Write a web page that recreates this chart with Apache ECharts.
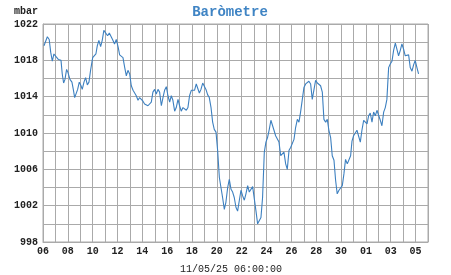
<!DOCTYPE html>
<html><head><meta charset="utf-8">
<script src="https://cdn.jsdelivr.net/npm/echarts@6/dist/echarts.min.js"></script>
<style>html,body{margin:0;padding:0;background:#fff}#c{width:451px;height:275px}</style>
</head><body><div id="c"></div>
<script>
// x = days since the first tick (06), y = pressure in mbar
const days = [0.08,0.35,0.5,0.62,0.75,0.88,1.05,1.23,1.45,1.55,1.66,1.77,1.9,2.0,2.17,2.33,2.44,2.55,2.65,2.79,2.92,3.06,3.16,3.3,3.43,3.57,3.7,3.83,4.0,4.13,4.26,4.37,4.5,4.64,4.77,4.9,5.04,5.2,5.34,5.47,5.6,5.76,5.9,6.06,
6.17,6.31,6.44,6.58,6.71,6.84,6.98,7.11,7.25,7.38,7.51,7.65,7.78,7.92,8.05,8.18,8.32,8.45,8.59,8.72,8.85,8.99,9.12,9.26,9.39,9.53,9.66,9.79,9.93,10.06,10.2,10.33,10.46,10.6,10.73,10.87,11.0,11.13,11.27,11.4,11.54,11.67,11.8,11.94,12.07,12.2,12.34,
12.45,12.59,12.72,12.86,12.99,13.12,13.26,13.39,13.53,13.66,13.79,13.93,14.06,14.2,14.33,14.46,14.6,14.73,14.87,15.0,15.14,15.27,15.4,15.54,15.67,15.81,15.94,16.07,16.21,16.34,16.48,16.61,16.74,16.88,17.01,17.15,17.28,17.41,17.55,17.68,17.82,17.95,18.08,18.22,18.35,18.49,
18.6,18.73,18.87,19.0,19.14,19.27,19.4,19.54,19.67,19.81,19.94,20.07,20.21,20.34,20.48,20.61,20.74,20.88,21.01,21.15,21.28,21.41,21.55,21.68,21.82,21.95,22.09,22.22,22.35,22.49,22.62,22.76,22.89,23.02,23.16,23.29,23.43,23.56,23.69,23.83,23.96,24.1,24.23,24.36,24.5,24.63,24.77,
24.88,25.01,25.15,25.28,25.42,25.55,25.68,25.82,25.95,26.09,26.22,26.35,26.49,26.62,26.76,26.89,27.02,27.16,27.29,27.43,27.56,27.69,27.83,27.96,28.1,28.23,28.37,28.5,28.63,28.77,28.9,29.04,29.17,29.3,29.44,29.57,29.71,29.84,29.97,30.11,30.24];
const pressure = [1019.6,1020.6,1020.3,1018.9,1017.9,1018.7,1018.4,1018.1,1018.0,1016.5,1015.5,1015.9,1017.0,1016.7,1015.9,1015.6,1014.8,1013.9,1014.1,1014.8,1015.6,1015.2,1014.8,1015.6,1016.1,1015.3,1015.6,1016.9,1018.3,1018.4,1018.7,1019.6,1020.2,1019.5,1020.2,1021.3,1021.1,1020.7,1021.0,1021.1,1020.3,1019.8,1020.3,1019.4,
1018.6,1018.5,1018.3,1017.2,1016.3,1016.9,1016.5,1015.2,1014.7,1014.7,1014.1,1013.6,1013.9,1014.1,1013.5,1013.2,1013.4,1013.0,1012.8,1013.4,1014.5,1014.8,1014.3,1014.8,1014.5,1013.0,1013.9,1014.7,1015.1,1014.1,1013.4,1014.1,1013.6,1012.4,1012.8,1013.7,1013.0,1012.4,1012.8,1013.0,1012.5,1012.8,1014.1,1014.7,1014.5,1014.7,1015.4,
1015.4,1014.4,1014.8,1015.5,1015.6,1014.8,1014.2,1013.9,1012.8,1011.2,1010.4,1010.1,1008.1,1005.1,1004.0,1002.9,1001.6,1002.4,1004.0,1004.9,1003.8,1003.5,1002.9,1001.8,1001.4,1002.6,1003.7,1003.1,1002.6,1003.3,1004.2,1003.5,1003.5,1004.1,1004.0,1001.4,1000.0,999.8,1000.7,1002.9,1007.9,1009.0,1009.5,1010.4,1011.4,1011.5,
1010.3,1009.7,1009.9,1009.0,1007.5,1007.5,1007.9,1006.6,1006.0,1008.1,1008.4,1008.6,1009.3,1010.6,1011.5,1011.2,1012.3,1013.7,1015.0,1015.4,1015.3,1015.7,1015.4,1013.7,1013.9,1015.8,1015.5,1015.4,1015.2,1014.5,1011.5,1011.2,1011.5,1010.3,1009.5,1007.5,1007.0,1004.8,1003.3,1003.7,1003.8,1004.2,1005.5,1007.1,1006.6,1006.6,1007.5,
1009.1,1009.7,1009.9,1010.3,1010.4,1009.0,1010.3,1011.4,1011.5,1011.0,1011.9,1012.2,1011.2,1012.3,1011.9,1012.5,1012.3,1011.4,1010.8,1012.3,1012.8,1013.7,1017.2,1017.6,1017.9,1019.1,1019.9,1019.2,1018.5,1019.1,1019.8,1019.2,1018.5,1018.6,1018.6,1017.2,1016.8,1017.5,1018.0,1017.2,1016.5];
const xTickLabels = ['06','08','10','12','14','16','18','20','22','24','26','28','30','01','03','05'];
const yTickLabels = ['998','1002','1006','1010','1014','1018','1022'];
const titleText = 'Baròmetre';
const unitText = 'mbar';
const footerText = '11/05/25 06:00:00';

const FONT = '"Liberation Mono", "Courier New", monospace';
const chart = echarts.init(document.getElementById('c'), null, {renderer: 'canvas'});
const data = days.map((d, i) => [d, pressure[i]]);
chart.setOption({
  animation: false,
  backgroundColor: '#fff',
  title: [
    {text: titleText, left: 225, top: 0, textAlign: 'center',
     textStyle: {fontFamily: FONT, fontWeight: 'bold', fontSize: 14, color: '#3f84c4'}},
    {text: unitText, left: 9, top: 1,
     textStyle: {fontFamily: FONT, fontWeight: 'bold', fontSize: 10, color: '#222'}},
    {text: footerText, left: 226, top: 259, textAlign: 'center',
     textStyle: {fontFamily: FONT, fontWeight: 'normal', fontSize: 10, color: '#222'}}
  ],
  grid: {left: 43, right: 23, top: 24, bottom: 33, show: true, borderColor: '#aaaaaa', borderWidth: 1},
  xAxis: {
    type: 'value', min: 0, max: 31, interval: 1,
    axisLine: {show: true, lineStyle: {color: '#aaaaaa'}},
    axisTick: {show: false},
    splitLine: {show: true, lineStyle: {color: '#aaaaaa', width: 1}},
    axisLabel: {
      margin: 4, fontFamily: FONT, fontWeight: 'bold', fontSize: 10, color: '#222',
      formatter: v => (v % 2 === 0 && v / 2 < xTickLabels.length) ? xTickLabels[v / 2] : ''
    }
  },
  yAxis: {
    type: 'value', min: 998, max: 1022, interval: 2,
    axisLine: {show: true, lineStyle: {color: '#aaaaaa'}},
    axisTick: {show: false},
    splitLine: {show: true, lineStyle: {color: '#aaaaaa', width: 1}},
    axisLabel: {
      margin: 5, fontFamily: FONT, fontWeight: 'bold', fontSize: 10, color: '#222',
      formatter: v => ((v - 998) % 4 === 0) ? yTickLabels[(v - 998) / 4] : ''
    }
  },
  series: [{
    type: 'line', data: data, showSymbol: false, symbol: 'none',
    lineStyle: {color: '#3d80c0', width: 1.1}
  }]
});
</script></body></html>
